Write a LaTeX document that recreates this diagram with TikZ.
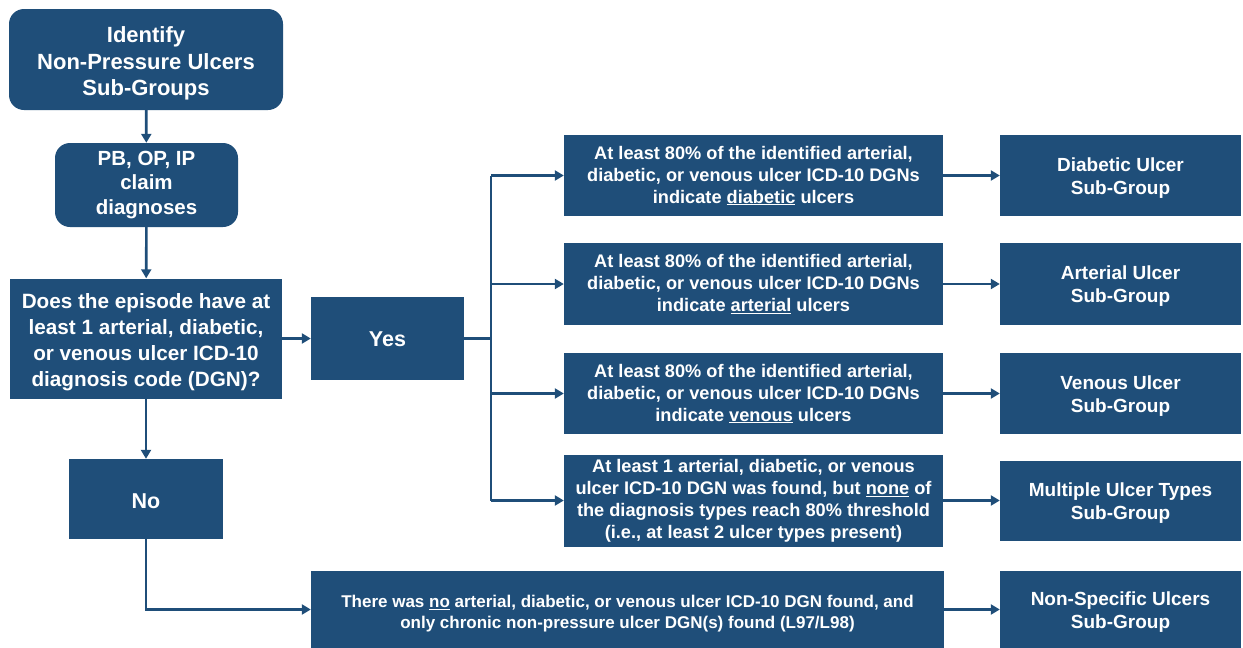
\documentclass[tikz,border=0pt]{standalone}
\usepackage{fontspec}
\setmainfont{Liberation Sans}
\usetikzlibrary{arrows.meta}
\definecolor{navy}{RGB}{31,78,121}
\newcommand{\lift}[1][1.1em]{\rule{0pt}{#1}}

\begin{document}
\begin{tikzpicture}[x=1pt, y=-1pt,
  box/.style={fill=navy, text=white, align=center, font=\bfseries, inner sep=0pt},
  rbox/.style={box, rounded corners=15pt},
  rule/.style={box, minimum width=379pt, font=\bfseries\fontsize{18.2}{22}\selectfont},
  group/.style={box, minimum width=241pt, font=\bfseries\fontsize{19}{23}\selectfont},
  link/.style={draw=navy, line width=2.6pt},
  go/.style={link, -{Triangle[length=9pt, width=10pt]}}]
\useasboundingbox (0,0) rectangle (1243,648);
\node (id) [rbox, minimum width=274pt, minimum height=101pt, font=\bfseries\fontsize{22}{26.5}\selectfont] at (146,59.5) {\lift Identify\\Non-Pressure Ulcers\\Sub-Groups};
\node (pb) [rbox, minimum width=183pt, minimum height=84pt, font=\bfseries\fontsize{20.5}{24.5}\selectfont] at (146.5,185) {PB, OP, IP\\claim\\diagnoses};
\node (q) [box, minimum width=272pt, minimum height=120pt, font=\bfseries\fontsize{20.7}{26}\selectfont] at (146,338.5) {\lift Does the episode have at\\least 1 arterial, diabetic,\\or venous ulcer ICD-10\\diagnosis code (DGN)?};
\node (yes) [box, minimum width=153pt, minimum height=83pt, font=\bfseries\fontsize{21.5}{24}\selectfont] at (387.5,338.5) {\lift[0.75em]Yes};
\node (no) [box, minimum width=154pt, minimum height=80pt, font=\bfseries\fontsize{21.5}{24}\selectfont] at (146,499) {\lift[0.85em]No};
% 80% rule boxes
\node (r1) [rule, minimum height=81pt] at (753.5,175.5) {At least 80\% of the identified arterial,\\diabetic, or venous ulcer ICD-10 DGNs\\indicate \underline{diabetic} ulcers};
\node (r2) [rule, minimum height=82pt] at (753.5,284) {At least 80\% of the identified arterial,\\diabetic, or venous ulcer ICD-10 DGNs\\indicate \underline{arterial} ulcers};
\node (r3) [rule, minimum height=81pt] at (753.5,393.5) {At least 80\% of the identified arterial,\\diabetic, or venous ulcer ICD-10 DGNs\\indicate \underline{venous} ulcers};
\node (r4) [rule, minimum height=92pt] at (753.5,500.5) {At least 1 arterial, diabetic, or venous\\ulcer ICD-10 DGN was found, but \underline{none} of\\the diagnosis types reach 80\% threshold\\(i.e., at least 2 ulcer types present)};
\node (r5) [box, minimum width=633pt, minimum height=77pt, font=\bfseries\fontsize{17}{21}\selectfont] at (627.5,609.5) {\lift[1.2em]There was \underline{no} arterial, diabetic, or venous ulcer ICD-10 DGN found, and\\only chronic non-pressure ulcer DGN(s) found (L97/L98)};
% sub-groups
\node (s1) [group, minimum height=81pt] at (1120.5,175.5) {\lift[0.98em]Diabetic Ulcer\\Sub-Group};
\node (s2) [group, minimum height=82pt] at (1120.5,284) {\lift[0.98em]Arterial Ulcer\\Sub-Group};
\node (s3) [group, minimum height=81pt] at (1120.5,393.5) {\lift[0.98em]Venous Ulcer\\Sub-Group};
\node (s4) [group, minimum height=80pt] at (1120.5,500.5) {\lift[0.98em]Multiple Ulcer Types\\Sub-Group};
\node (s5) [group, minimum height=77pt] at (1120.5,609.5) {\lift[0.98em]Non-Specific Ulcers\\Sub-Group};
\coordinate (fork) at (491,338.5);
\draw[go] (id) -- (pb);
\draw[go] (pb) -- (q);
\draw[go] (q) -- (yes);
\draw[go] (q) -- (no);
\draw[link] (yes) -- (fork);
\draw[link] (fork |- r1) -- (fork |- r4);
\draw[go] (fork |- r1) -- (r1);
\draw[go] (fork |- r2) -- (r2);
\draw[go] (fork |- r3) -- (r3);
\draw[go] (fork |- r4) -- (r4);
\draw[go] (no) |- (r5);
\draw[go] (r1) -- (s1);
\draw[go] (r2) -- (s2);
\draw[go] (r3) -- (s3);
\draw[go] (r4) -- (s4);
\draw[go] (r5) -- (s5);
\end{tikzpicture}
\end{document}
